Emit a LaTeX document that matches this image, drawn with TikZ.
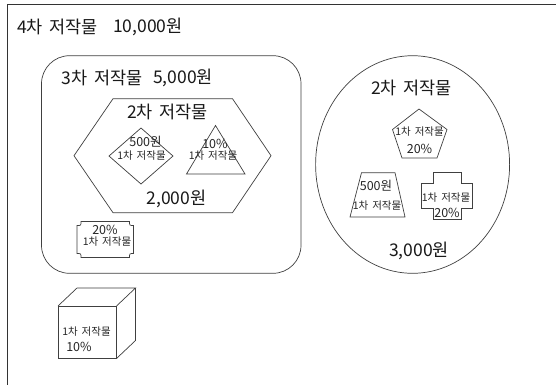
\documentclass[tikz,border=0pt]{standalone}
\usepackage{fontspec}
\setmainfont[WordSpace=1.7]{Noto Sans CJK KR}
\begin{document}
\begin{tikzpicture}[x=1pt,y=-1pt,
  shp/.style={draw=black!75, line width=0.7pt},
  frm/.style={draw=black!80, line width=1pt},
  big/.style={inner sep=0pt, font=\fontsize{17.5}{19}\selectfont, text=black!90},
  mid/.style={inner sep=0pt, font=\fontsize{12.5}{14}\selectfont, text=black!85},
  sml/.style={inner sep=0pt, font=\fontsize{10.5}{12}\selectfont, text=black!85}]
\useasboundingbox (0,0) rectangle (556,384);
\fill[white] (0,0) rectangle (556,384);
% outer frame
\draw[frm] (7,390) -- (7,4) -- (560,4);
\node[big, anchor=west] (t4) at (17,27) {4차 저작물};
\node[big, anchor=west] (p4) at (113,27) {10,000원};
% rounded rectangle
\draw[shp, rounded corners=28pt] (41.5,55.7) rectangle (301,273.3);
\node[big, anchor=west] (t3) at (61.5,78) {3차 저작물};
\node[big, anchor=west] (p3) at (153,78) {5,000원};
% hexagon
\draw[shp] (113,98.7) -- (232.5,98.7) -- (271,155.7) -- (232.5,212.7) -- (113,212.7) -- (74,155.7) -- cycle;
\node[big] (t2a) at (167.5,112) {2차 저작물};
\node[big] (p2a) at (176.5,199) {2,000원};
% diamond
\draw[shp] (141,128) -- (173,156) -- (141,184) -- (109,156) -- cycle;
\node[mid] (d1) at (145.5,141.7) {500원};
\node[sml] (d2) at (141.5,155.5) {1차 저작물};
% triangle
\draw[shp] (215.5,125.5) -- (245,174) -- (186.5,174) -- cycle;
\node[mid] (tr1) at (215,143.5) {10\%};
\node[sml] (tr2) at (213,155.5) {1차 저작물};
% plaque
\draw[shp] (81,221.5) -- (129.5,221.5) .. controls (129.5,225.5) .. (133.5,225.5)
  -- (133.5,253.5) .. controls (129.5,253.5) .. (129.5,257.5)
  -- (81,257.5) .. controls (81,253.5) .. (77,253.5)
  -- (77,225.5) .. controls (81,225.5) .. (81,221.5) -- cycle;
\node[mid] (pl1) at (105,230) {20\%};
\node[sml] (pl2) at (107,242) {1차 저작물};
% ellipse
\draw[shp] (412.6,164.5) ellipse [x radius=97, y radius=108.8];
\node[big] (t2b) at (411.5,88.3) {2차 저작물};
\node[big] (p2b) at (419,250.5) {3,000원};
% pentagon
\draw[shp] (419,109) -- (447,129.5) -- (437,158) -- (402,158) -- (392.5,129.5) -- cycle;
\node[sml] (pe1) at (419.5,132) {1차 저작물};
\node[mid] (pe2) at (419.5,149) {20\%};
% trapezoid
\draw[shp] (361.5,172.7) -- (395,172.7) -- (405,217) -- (350,217) -- cycle;
\node[mid] (tz1) at (376,186) {500원};
\node[sml] (tz2) at (377,206) {1차 저작물};
% cross
\draw[shp] (433,172.5) -- (461,172.5) -- (461,183.3) -- (472,183.3) -- (472,208.3) -- (461,208.3)
  -- (461,219) -- (433,219) -- (433,208.3) -- (421.5,208.3) -- (421.5,183.3) -- (433,183.3) -- cycle;
\node[sml] (cr1) at (446,197.5) {1차 저작물};
\node[mid] (cr2) at (447,213) {20\%};
% cube
\draw[shp] (58,306) rectangle (116.5,358.5);
\draw[shp] (58,306) -- (77,288) -- (135.5,288) -- (116.5,306);
\draw[shp] (135.5,288) -- (135.5,340.5) -- (116.5,358.5);
\node[sml] (cb1) at (86.5,331.7) {1차 저작물};
\node[mid] (cb2) at (79,347) {10\%};
\end{tikzpicture}
\end{document}
